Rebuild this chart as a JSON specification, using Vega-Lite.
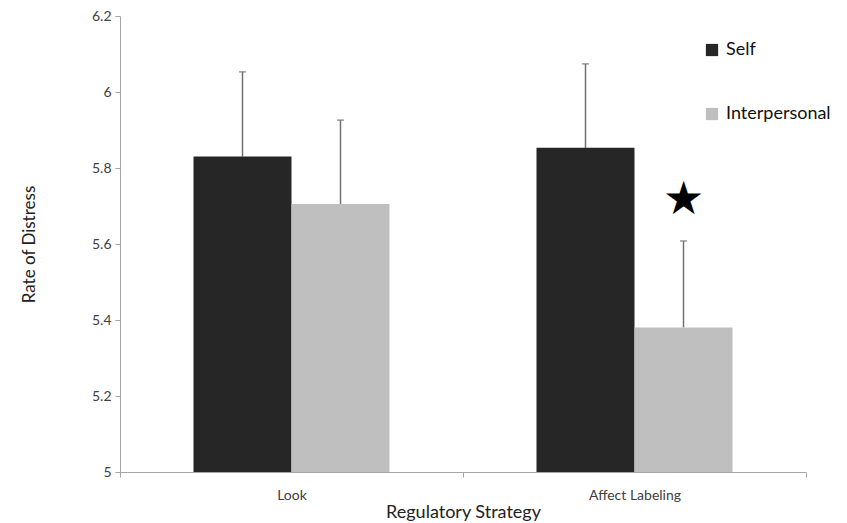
{
  "$schema": "https://vega.github.io/schema/vega-lite/v6.json",
  "width": 686,
  "height": 456,
  "autosize": {"type": "none"},
  "padding": {"left": 120, "top": 16, "right": 41, "bottom": 51},
  "background": "white",
  "config": {
    "view": {"stroke": null},
    "font": "Lato"
  },
  "data": {
    "values": [
      {"strategy": "Look", "group": "Self", "mean": 5.83, "upper": 6.053, "sig": "", "sig_y": null},
      {"strategy": "Look", "group": "Interpersonal", "mean": 5.705, "upper": 5.926, "sig": "", "sig_y": null},
      {"strategy": "Affect Labeling", "group": "Self", "mean": 5.853, "upper": 6.074, "sig": "", "sig_y": null},
      {"strategy": "Affect Labeling", "group": "Interpersonal", "mean": 5.38, "upper": 5.608, "sig": "★", "sig_y": 5.716}
    ]
  },
  "encoding": {
    "x": {
      "field": "strategy",
      "type": "nominal",
      "sort": ["Look", "Affect Labeling"],
      "scale": {"paddingInner": 0, "paddingOuter": 0},
      "axis": {
        "title": "Regulatory Strategy",
        "titleFontSize": 18,
        "titleFontWeight": "normal",
        "titleColor": "#222222",
        "titleY": 45,
        "titleBaseline": "alphabetic",
        "labelAngle": 0,
        "labelFontSize": 14,
        "labelColor": "#404040",
        "labelPadding": 11,
        "domainColor": "#a6a6a6",
        "tickColor": "#a6a6a6",
        "tickBand": "extent",
        "tickSize": 5,
        "grid": false
      }
    },
    "xOffset": {
      "field": "group",
      "type": "nominal",
      "sort": ["Self", "Interpersonal"],
      "scale": {"paddingInner": 0, "paddingOuter": 0.75}
    }
  },
  "layer": [
    {
      "mark": {"type": "rule", "color": "#707070", "strokeWidth": 1.5},
      "encoding": {
        "y": {"field": "mean", "type": "quantitative"},
        "y2": {"field": "upper"}
      }
    },
    {
      "mark": {"type": "tick", "orient": "horizontal", "color": "#707070", "size": 7, "thickness": 1.5},
      "encoding": {
        "y": {"field": "upper", "type": "quantitative"}
      }
    },
    {
      "mark": {"type": "bar"},
      "encoding": {
        "y": {
          "field": "mean",
          "type": "quantitative",
          "scale": {"domain": [5, 6.2], "zero": false, "nice": false},
          "axis": {
            "title": "Rate of Distress",
            "titleFontSize": 17,
            "titleFontWeight": "normal",
            "titleColor": "#222222",
            "titleX": -82,
            "values": [5, 5.2, 5.4, 5.6, 5.8, 6, 6.2],
            "format": "~g",
            "labelFontSize": 14,
            "labelColor": "#404040",
            "labelPadding": 4,
            "domainColor": "#a6a6a6",
            "tickColor": "#a6a6a6",
            "tickSize": 5,
            "grid": false
          }
        },
        "y2": {"datum": 5},
        "color": {
          "field": "group",
          "type": "nominal",
          "sort": ["Self", "Interpersonal"],
          "scale": {"domain": ["Self", "Interpersonal"], "range": ["#262626", "#bfbfbf"]},
          "legend": {
            "title": null,
            "orient": "none",
            "legendX": 583,
            "legendY": 25,
            "symbolType": "square",
            "symbolSize": 150,
            "symbolStrokeWidth": 0,
            "labelFontSize": 18,
            "labelColor": "#111111",
            "labelOffset": 5,
            "rowPadding": 46
          }
        }
      }
    },
    {
      "transform": [{"filter": "datum.sig != ''"}],
      "mark": {"type": "text", "fontSize": 46, "color": "black", "baseline": "middle", "font": "DejaVu Sans"},
      "encoding": {
        "y": {"field": "sig_y", "type": "quantitative"},
        "text": {"field": "sig"}
      }
    }
  ]
}
